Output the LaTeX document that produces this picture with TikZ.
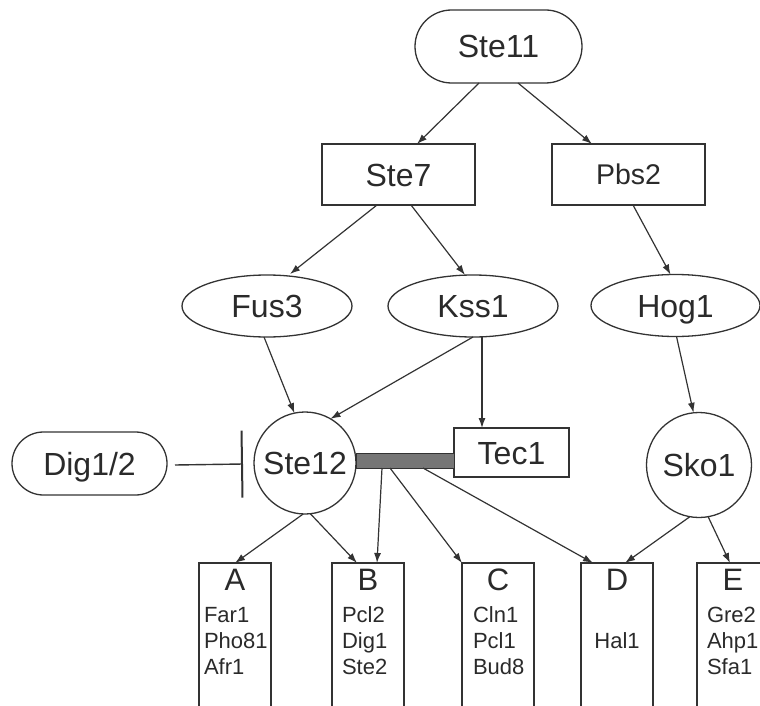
\documentclass[tikz,border=0pt]{standalone}
\usepackage{fontspec}
\setmainfont{Liberation Sans}
\usetikzlibrary{shapes.geometric,shapes.misc,arrows.meta,calc}
\definecolor{ink}{HTML}{333333}
\definecolor{txt}{HTML}{2A2A2A}
\definecolor{barfill}{HTML}{767676}
\begin{document}
\begin{tikzpicture}[x=1pt,y=-1pt,
  every node/.style={text=txt,inner sep=0pt,outer sep=0pt},
  lbl/.style={font=\fontsize{32}{32}\selectfont,text height=23pt,text depth=0pt},
  nodeline/.style={draw=ink,line width=1.3pt},
  pill/.style={lbl,nodeline,rounded rectangle,minimum height=73,minimum width=167},
  boxn/.style={lbl,nodeline,rectangle,minimum width=153,minimum height=61},
  ell/.style={lbl,nodeline,ellipse,minimum width=170,minimum height=62},
  circ/.style={lbl,nodeline,circle,minimum size=102},
  genebox/.style={rectangle,minimum width=72,minimum height=154},
  letter/.style={font=\fontsize{31}{31}\selectfont,anchor=base},
  gene/.style={font=\fontsize{22}{22}\selectfont,anchor=base west},
  arr/.style={draw=ink,line width=1.2pt,-{Latex[length=10pt,width=7pt]}},
  boxline/.style={draw=ink,line width=1.4pt}
]
\useasboundingbox (0,0) rectangle (760,706);

% top layer
\node[pill] (ste11) at (498.5,46.5) {Ste11};
\node[boxn] (ste7) at (398.5,174.5) {Ste7};
\node[boxn,font=\fontsize{28.5}{28.5}\selectfont,text height=20.5pt] (pbs2) at (628.5,174.5) {Pbs2};
\node[ell] (fus3) at (267,306) {Fus3};
\node[ell] (kss1) at (473,306) {Kss1};
\node[ell,minimum width=169] (hog1) at (675.5,305.5) {Hog1};
\node[circ] (ste12) at (305,463) {Ste12};
\node[circ,minimum size=105] (sko1) at (699,465) {Sko1};
\node[pill,minimum width=155,minimum height=63] (dig) at (89.5,463.5) {Dig1/2};
\node[lbl,nodeline,rectangle,minimum width=115,minimum height=49] (tec1) at (511.5,452.5) {Tec1};
\node[rectangle,fill=barfill,draw=ink,line width=0.8pt,minimum width=98,minimum height=15] (bar) at (405,460.5) {};

% gene boxes
\node[genebox] (boxA) at (235,640) {};
\node[genebox] (boxB) at (368,640) {};
\node[genebox] (boxC) at (498,640) {};
\node[genebox] (boxD) at (617,640) {};
\node[genebox] (boxE) at (733,640) {};
\foreach \b in {boxA,boxB,boxC,boxD,boxE}
  \draw[boxline] (\b.south west) -- (\b.north west) -- (\b.north east) -- (\b.south east);

\node[letter] (lA) at (235,590) {A};
\node[letter] (lB) at (368,590) {B};
\node[letter] (lC) at (498,590) {C};
\node[letter] (lD) at (617,590) {D};
\node[letter] (lE) at (733,590) {E};

\node[gene] (a1) at (204,622) {Far1};
\node[gene] (a2) at (204,648) {Pho81};
\node[gene] (a3) at (204,674) {Afr1};
\node[gene] (b1) at (342,622) {Pcl2};
\node[gene] (b2) at (342,648) {Dig1};
\node[gene] (b3) at (342,674) {Ste2};
\node[gene] (c1) at (473,622) {Cln1};
\node[gene] (c2) at (473,648) {Pcl1};
\node[gene] (c3) at (473,674) {Bud8};
\node[gene,anchor=base] (d1) at (617,648) {Hal1};
\node[gene] (e1) at (707,622) {Gre2};
\node[gene] (e2) at (707,648) {Ahp1};
\node[gene] (e3) at (707,674) {Sfa1};

% connectors
\draw[arr] ([xshift=-19.5pt]ste11.south) -- ([xshift=18.5pt]ste7.north);
\draw[arr] ([xshift=19.5pt]ste11.south) -- ([xshift=-36.5pt]pbs2.north);
\draw[arr] ([xshift=-21.5pt]ste7.south) -- ([xshift=23pt,yshift=1pt]fus3.north);
\draw[arr] ([xshift=12.5pt]ste7.south) -- ([xshift=-8pt]kss1.north);
\draw[arr] ([xshift=4.5pt]pbs2.south) -- ([xshift=-5pt]hog1.north);
\draw[arr] ([xshift=-3pt]fus3.south) -- (ste12.102);
\draw[arr] (kss1.south) -- (ste12.60);
\draw[arr] ([xshift=9pt]kss1.south) -- ([xshift=9pt]kss1.south |- tec1.north);
\draw[arr] ([xshift=1pt]hog1.south) -- (sko1.96);
\draw[draw=ink,line width=1.4pt,-{Bar[width=67pt,line width=2pt]}]
  ([xshift=8pt,yshift=-1.5pt]dig.east) -- ([xshift=-11pt,yshift=-1pt]ste12.west);

\draw[arr] (ste12.268) -- (boxA.north);
\draw[arr] (ste12.276) -- ([xshift=-11pt]boxB.north);
\draw[arr] ([xshift=-23pt]bar.south) -- ([xshift=9pt]boxB.north);
\draw[arr] ([xshift=-15pt]bar.south) -- (boxC.north west);
\draw[arr] ([xshift=18pt]bar.south) -- ([xshift=-24pt]boxD.north);
\draw[arr] (sko1.260) -- ([xshift=8pt]boxD.north);
\draw[arr] (sko1.280) -- ([xshift=-3pt]boxE.north);
\end{tikzpicture}
\end{document}
